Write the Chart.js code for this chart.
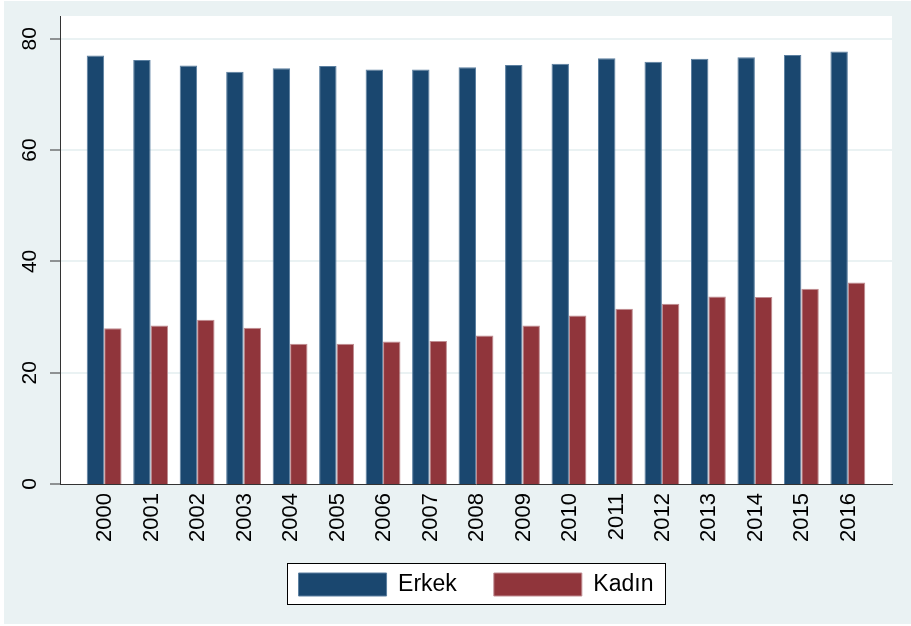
<!DOCTYPE html>
<html>
<head>
<meta charset="utf-8">
<script src="https://cdn.jsdelivr.net/npm/chart.js@4"></script>
<style>
  body { margin: 0; background: #ffffff; }
  #wrap { position: absolute; left: 4px; top: 1px; width: 907px; height: 623px; background: #eaf2f3; }
</style>
</head>
<body>
<div id="wrap"><canvas id="myChart"></canvas></div>
<script>
const years = [2000, 2001, 2002, 2003, 2004, 2005, 2006, 2007, 2008, 2009, 2010, 2011, 2012, 2013, 2014, 2015, 2016];
const erkek = [77.0, 76.2, 75.2, 74.1, 74.7, 75.1, 74.5, 74.5, 74.9, 75.3, 75.5, 76.5, 75.9, 76.4, 76.7, 77.1, 77.7];
const kadin = [28.0, 28.5, 29.5, 28.1, 25.2, 25.2, 25.6, 25.7, 26.7, 28.5, 30.3, 31.5, 32.4, 33.7, 33.6, 35.1, 36.2];
const yTicks = [0, 20, 40, 60, 80];

Chart.defaults.font.family = "'Liberation Sans', Arial, sans-serif";
Chart.defaults.color = '#000000';

// white plot region and framed legend, like the Stata graph
const plotBg = {
  id: 'plotBg',
  beforeDraw(chart) {
    const ctx = chart.ctx;
    const a = chart.chartArea;
    ctx.save();
    ctx.fillStyle = '#ffffff';
    ctx.fillRect(a.left, a.top, a.right - a.left, a.bottom - a.top);
    const hb = chart.legend.legendHitBoxes;
    if (hb && hb.length) {
      const last = hb[hb.length - 1];
      const x0 = Math.round(hb[0].left - 12) + 0.5;
      const x1 = Math.round(last.left + last.width + 12) + 0.5;
      const y0 = Math.round(hb[0].top - 10) + 0.5;
      const y1 = Math.round(hb[0].top + hb[0].height + 8) + 0.5;
      ctx.fillRect(x0, y0, x1 - x0, y1 - y0);
      ctx.strokeStyle = '#000000';
      ctx.lineWidth = 1;
      ctx.strokeRect(x0, y0, x1 - x0, y1 - y0);
    }
    ctx.restore();
  },
  // tick labels rotated, reading bottom to top
  afterDraw(chart) {
    const ctx = chart.ctx;
    const x = chart.scales.x;
    const y = chart.scales.y;
    ctx.save();
    ctx.fillStyle = '#000000';
    ctx.textBaseline = 'middle';
    ctx.font = "21px 'Liberation Sans', Arial, sans-serif";
    ctx.textAlign = 'center';
    yTicks.forEach(v => {
      ctx.save();
      ctx.translate(y.right - 30, y.getPixelForValue(v));
      ctx.rotate(-Math.PI / 2);
      ctx.fillText(String(v), 0, 0);
      ctx.restore();
    });
    ctx.font = "22px 'Liberation Sans', Arial, sans-serif";
    ctx.textAlign = 'right';
    years.forEach(v => {
      ctx.save();
      ctx.translate(x.getPixelForValue(v) + 1, x.top + 9);
      ctx.rotate(-Math.PI / 2);
      ctx.fillText(String(v), 0, 0);
      ctx.restore();
    });
    ctx.restore();
  }
};

var ctx = document.getElementById('myChart').getContext('2d');
var chart = new Chart(ctx, {
  type: 'bar',
  data: {
    labels: years,
    datasets: [{
      label: 'Erkek',
      data: erkek,
      backgroundColor: '#1a476f',
      borderColor: '#5b7fa0',
      borderWidth: 1
    }, {
      label: 'Kadın',
      data: kadin,
      backgroundColor: '#90353b',
      borderColor: '#c08d92',
      borderWidth: 1
    }]
  },
  options: {
    responsive: true,
    maintainAspectRatio: false,
    animation: false,
    layout: { padding: { left: 0, right: 19, top: 15, bottom: 18 } },
    datasets: { bar: { categoryPercentage: 0.75, barPercentage: 1.0 } },
    plugins: {
      tooltip: { enabled: false },
      legend: {
        position: 'bottom',
        fullSize: false,
        labels: {
          boxWidth: 88,
          boxHeight: 23,
          padding: 37,
          font: { size: 23 }
        }
      }
    },
    scales: {
      x: {
        type: 'linear',
        offset: false,
        min: 1999.05,
        max: 2016.95,
        afterBuildTicks: (scale) => { scale.ticks = years.map(v => ({ value: v })); },
        afterFit: (scale) => { scale.height = 52; },
        grid: { display: false, drawTicks: false, offset: false },
        border: { display: true, color: '#333333', width: 1 },
        ticks: { display: false }
      },
      y: {
        min: 0,
        max: 84.1,
        afterBuildTicks: (scale) => { scale.ticks = yTicks.map(v => ({ value: v })); },
        afterFit: (scale) => { scale.width = 56; },
        grid: {
          color: '#eaf2f3',
          lineWidth: (c) => (c.tick && c.tick.value === 0 ? 0 : 2),
          tickColor: '#333333',
          tickWidth: 1,
          tickLength: 10
        },
        border: { display: true, color: '#333333', width: 1 },
        ticks: { display: false }
      }
    }
  },
  plugins: [plotBg]
});
</script>
</body>
</html>
